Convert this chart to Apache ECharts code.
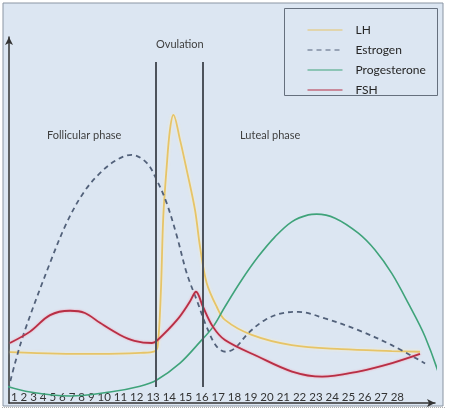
<!DOCTYPE html>
<html>
<head>
<meta charset="utf-8">
<script src="https://cdn.jsdelivr.net/npm/echarts@6/dist/echarts.min.js"></script>
<style>
  html, body { margin: 0; padding: 0; background: #fff; }
  #chart { width: 449px; height: 410px; }
</style>
</head>
<body>
<div id="chart"></div>
<script>
// 周期天数标签
var dayLabels = ['1','2','3','4','5','6','7','8','9','10','11','12','13','14',
                 '15','16','17','18','19','20','21','22','23','24','25','26','27','28'];
// 排卵期的两条竖线（天）
var ovulationDays = [13, 16];
var ovulationSpan = [4.4, 93.2];

// 各激素曲线 [天, 相对水平]
var lhData = [
    [3.56, 13.9], [6.6, 13.5], [9.37, 13.4], [12.0, 13.7], [12.9, 14.1], [13.1, 15.5],
    [13.3, 30.0], [13.46, 50.9], [13.68, 64.6], [13.89, 74.6], [14.11, 78.7],
    [14.54, 71.9], [14.97, 63.7], [15.51, 52.7], [15.83, 42.7], [16.26, 32.8],
    [16.91, 26.3], [17.44, 22.7], [19.17, 18.6], [21.75, 15.8], [24.98, 14.7],
    [28.21, 14.2], [30.03, 14.0]
];
var estrogenData = [
    [3.45, 3.6], [3.89, 10.9], [4.53, 19.9], [6.15, 38.3], [7.22, 49.2], [8.30, 57.4],
    [9.37, 62.8], [10.45, 66.4], [11.42, 67.8], [12.39, 65.6], [13.04, 60.9],
    [13.68, 54.6], [14.33, 45.7], [14.97, 35.5], [15.62, 28.1], [16.26, 20.8],
    [16.91, 15.4], [17.5, 14.0], [18.09, 15.0], [18.95, 19.1], [20.03, 22.7],
    [21.1, 24.5], [22.18, 24.9], [23.9, 23.1], [26.05, 19.9], [28.21, 15.8], [30.36, 10.8]
];
var progesteroneData = [
    [3.11, 4.9], [4.86, 3.0], [7.44, 1.9], [10.02, 3.0], [11.96, 4.6], [13.04, 6.3],
    [14.54, 10.9], [15.83, 16.7], [16.67, 20.8], [17.44, 26.3], [18.52, 33.6],
    [19.59, 40.0], [20.67, 45.4], [21.75, 49.5], [22.82, 51.4], [23.36, 51.6],
    [24.55, 50.5], [26.05, 46.4], [27.13, 41.8], [28.21, 35.4], [29.28, 27.2],
    [30.36, 18.1], [31.43, 5.5], [31.52, 2.2]
];
var fshData = [
    [3.56, 16.4], [4.86, 19.5], [6.15, 24.0], [7.44, 25.2], [8.4, 24.6], [9.37, 21.9],
    [10.67, 18.6], [11.6, 17.0], [12.73, 16.4], [13.04, 17.0], [14.35, 22.7],
    [15.18, 27.7], [15.57, 30.4], [16.02, 26.3], [16.67, 20.8], [17.44, 17.2],
    [19.57, 12.7], [21.77, 8.6], [23.71, 7.2], [26.05, 8.6], [28.23, 10.9], [30.03, 13.4]
];

(function () {
    var myChart = echarts.init(document.getElementById('chart'));
    var font = 'Lato, "Open Sans", sans-serif';

    var option = {
        backgroundColor: '#ffffff',
        animation: false,
        grid: { left: 9, right: 14, top: 37, bottom: 7 },
        xAxis: {
            type: 'value',
            min: 3.5,
            max: 31,
            axisLine: {
                show: true,
                symbol: ['none', 'arrow'],
                symbolSize: [6, 8],
                lineStyle: { color: '#333', width: 1.5 }
            },
            axisTick: { show: false },
            axisLabel: { show: false },
            splitLine: { show: false }
        },
        yAxis: {
            type: 'value',
            min: 0,
            max: 100,
            axisLine: {
                show: true,
                symbol: ['none', 'arrow'],
                symbolSize: [6, 8],
                lineStyle: { color: '#333', width: 1.5 }
            },
            axisTick: { show: false },
            axisLabel: { show: false },
            splitLine: { show: false }
        },
        legend: {
            orient: 'vertical',
            left: 302,
            top: 19,
            itemWidth: 35,
            itemHeight: 10,
            itemGap: 8,
            // 图例只画线，不画圆点
            itemStyle: { opacity: 0 },
            lineStyle: { width: 1 },
            textStyle: {
                fontFamily: font,
                fontSize: 12,
                color: '#262626',
                padding: [0, 0, 0, 8]
            },
            data: ['LH', 'Estrogen', 'Progesterone', 'FSH']
        },
        graphic: [
            // 整体背景和边框
            {
                type: 'rect', z: -10, silent: true,
                shape: { x: 3, y: 3, width: 440, height: 403 },
                style: { fill: '#dce6f2', stroke: '#8a95a3', lineWidth: 1 }
            },
            {
                type: 'line', z: -9, silent: true,
                shape: { x1: 2, y1: 407.5, x2: 446, y2: 407.5 },
                style: { stroke: '#b0b0b0', lineWidth: 1, lineDash: [1, 1] }
            },
            // 图例边框
            {
                type: 'rect', z: -5, silent: true,
                shape: { x: 284.5, y: 8.5, width: 153, height: 87 },
                style: { fill: '#dce6f2', stroke: '#66707e', lineWidth: 1 }
            },
            {
                type: 'text', left: 156, top: 39,
                style: { text: 'Ovulation', font: '11px ' + font, fill: '#404040' }
            },
            {
                type: 'text', left: 47, top: 130,
                style: { text: 'Follicular phase', font: '11px ' + font, fill: '#404040' }
            },
            {
                type: 'text', left: 240, top: 130,
                style: { text: 'Luteal phase', font: '11px ' + font, fill: '#404040' }
            },
            // x轴的天数
            {
                type: 'text', left: 11, top: 391,
                style: { text: dayLabels.join(' '), font: '11.5px ' + font, fill: '#333' }
            }
        ],
        series: [
            {
                name: 'LH',
                type: 'line',
                data: lhData,
                smooth: 0.35,
                showSymbol: false,
                symbol: 'none',
                clip: false,
                color: '#e6c468',
                lineStyle: {
                    width: 1.8,
                    color: '#e6c468',
                    shadowColor: 'rgba(255,240,190,0.9)',
                    shadowBlur: 3
                },
                markLine: {
                    silent: true,
                    symbol: 'none',
                    label: { show: false },
                    lineStyle: { color: '#4d535c', width: 2, type: 'solid' },
                    data: ovulationDays.map(function (d) {
                        return [{ coord: [d, ovulationSpan[0]] }, { coord: [d, ovulationSpan[1]] }];
                    })
                }
            },
            {
                name: 'Estrogen',
                type: 'line',
                data: estrogenData,
                smooth: 0.35,
                showSymbol: false,
                symbol: 'none',
                clip: false,
                color: '#52617a',
                lineStyle: { width: 1.8, color: '#52617a', type: [5, 4] }
            },
            {
                name: 'Progesterone',
                type: 'line',
                data: progesteroneData,
                smooth: 0.35,
                showSymbol: false,
                symbol: 'none',
                clip: false,
                color: '#3fa37a',
                lineStyle: { width: 1.6, color: '#3fa37a' }
            },
            {
                name: 'FSH',
                type: 'line',
                data: fshData,
                smooth: 0.35,
                showSymbol: false,
                symbol: 'none',
                clip: false,
                color: '#c0334a',
                lineStyle: {
                    width: 1.8,
                    color: '#b72f45',
                    shadowColor: 'rgba(255,130,150,0.8)',
                    shadowBlur: 2
                }
            }
        ]
    };

    myChart.setOption(option);
    window.addEventListener('resize', function () {
        myChart.resize();
    });
})();
</script>
</body>
</html>
